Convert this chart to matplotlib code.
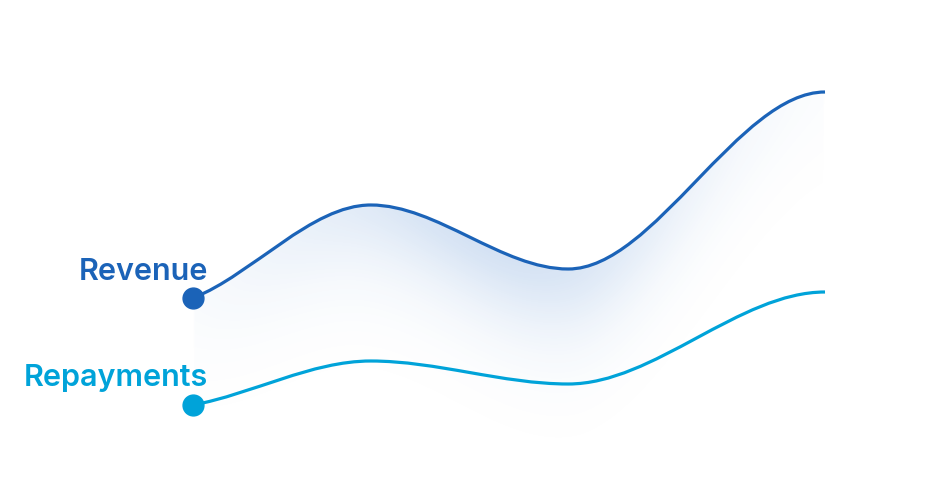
import numpy as np
import matplotlib
matplotlib.use("Agg")
import matplotlib.pyplot as plt
from matplotlib.path import Path
from matplotlib.patches import PathPatch

# Data (week number, value in $k)
weeks = [0, 9, 19, 32]
revenue = [182, 275, 211, 388]
repayments = [75, 119, 96, 188]

series_names = ["Revenue", "Repayments"]
series_colors = ["#1b63b8", "#00a3d9"]

W, H, DPI = 940, 480, 100
x0_px, x1_px = 193, 825  # where first/last week sit


def tangents(x, y):
    # flat at turning points and at the end, softened slope at the start
    n = len(x)
    m = np.zeros(n)
    sec = np.diff(y) / np.diff(x)
    for i in range(1, n - 1):
        if sec[i - 1] * sec[i] > 0:
            m[i] = 2 / (1 / sec[i - 1] + 1 / sec[i])
    m[0] = 0.75 * sec[0]
    m[-1] = 0.0
    return m


def smooth_path(x, y):
    x = np.asarray(x, float)
    y = np.asarray(y, float)
    m = tangents(x, y)
    verts = [(x[0], y[0])]
    codes = [Path.MOVETO]
    for i in range(len(x) - 1):
        h = x[i + 1] - x[i]
        verts += [(x[i] + h / 3, y[i] + m[i] * h / 3),
                  (x[i + 1] - h / 3, y[i + 1] - m[i + 1] * h / 3),
                  (x[i + 1], y[i + 1])]
        codes += [Path.CURVE4] * 3
    return verts, codes


def hermite_eval(x, y, xs):
    x = np.asarray(x, float)
    y = np.asarray(y, float)
    m = tangents(x, y)
    out = np.full_like(xs, np.nan, dtype=float)
    for i in range(len(x) - 1):
        h = x[i + 1] - x[i]
        sel = (xs >= x[i]) & (xs <= x[i + 1])
        t = (xs[sel] - x[i]) / h
        out[sel] = ((2 * t**3 - 3 * t**2 + 1) * y[i] + (t**3 - 2 * t**2 + t) * h * m[i]
                    + (-2 * t**3 + 3 * t**2) * y[i + 1] + (t**3 - t**2) * h * m[i + 1])
    return out


fig = plt.figure(figsize=(W / DPI, H / DPI), dpi=DPI)
ax = fig.add_axes([0, 0, 1, 1])
ax.set_axis_off()

# map weeks onto the pixel span of the original
ppu = (x1_px - x0_px) / (weeks[-1] - weeks[0])
xmin = weeks[0] - x0_px / ppu
xmax = weeks[0] + (W - x0_px) / ppu
ax.set_xlim(xmin, xmax)
ax.set_ylim(0, H)

# soft gradient under the revenue line
nx, ny = 470, 240
gx = np.linspace(xmin, xmax, nx)
gy = np.linspace(0, H, ny)
GX, GY = np.meshgrid(gx, gy)
curve = hermite_eval(weeks, revenue, gx)
depth = np.clip(curve[None, :] - GY, 0, None)  # pixels below the line
px = x0_px + (GX - weeks[0]) * ppu
alpha = 0.19 * np.exp(-(depth / 70.0) ** 1.5) * np.exp(-((px - 490) / 215.0) ** 2)
alpha = np.nan_to_num(alpha)
rgba = np.zeros((ny, nx, 4))
rgba[..., :3] = matplotlib.colors.to_rgb("#1e66c4")
rgba[..., 3] = alpha
img = ax.imshow(rgba, extent=(xmin, xmax, 0, H), origin="lower",
                aspect="auto", interpolation="bilinear", zorder=1)

verts, codes = smooth_path(weeks, revenue)
clip_verts = verts + [(weeks[-1], 0), (weeks[0], 0), (weeks[0], revenue[0])]
clip_codes = codes + [Path.LINETO, Path.LINETO, Path.CLOSEPOLY]
clip = PathPatch(Path(clip_verts, clip_codes), facecolor="none", edgecolor="none")
ax.add_patch(clip)
img.set_clip_path(clip)

for name, vals, col, dy in zip(series_names, [revenue, repayments], series_colors, [18, 19]):
    v, c = smooth_path(weeks, vals)
    ax.add_patch(PathPatch(Path(v, c), facecolor="none", edgecolor=col,
                           lw=2.3, capstyle="butt", zorder=3))
    ax.plot(weeks[0], vals[0], "o", color=col, markersize=15, zorder=4)
    ax.annotate(name, (weeks[0], vals[0]), xytext=(15, dy), textcoords="offset pixels",
                ha="right", va="baseline", color=col, fontsize=22,
                fontfamily="Inter", fontweight="semibold")

fig.savefig("out.png", dpi=DPI)
